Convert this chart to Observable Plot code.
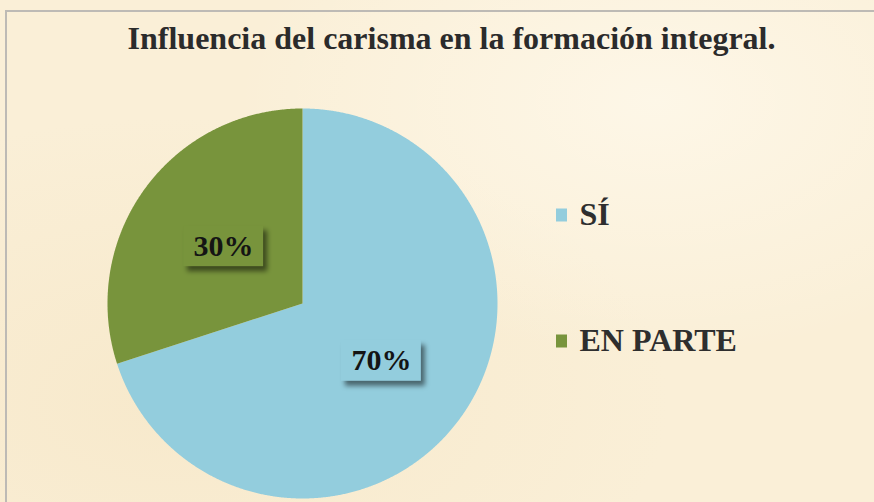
<!DOCTYPE html>
<html>
<head>
<meta charset="utf-8">
<script src="https://cdn.jsdelivr.net/npm/d3@7"></script>
<script src="https://cdn.jsdelivr.net/npm/@observablehq/plot@0.6"></script>
<style>
html, body { margin: 0; padding: 0; background: #ffffff; }
#chart {
  position: relative; width: 874px; height: 502px; overflow: hidden;
  background:
    radial-gradient(ellipse at 75% 20%, rgba(255,250,238,0.7), rgba(255,250,238,0) 45%),
    radial-gradient(ellipse at 20% 80%, rgba(244,226,190,0.45), rgba(244,226,190,0) 50%),
    #FAEFD7;
}
#frame {
  position: absolute; left: 5px; top: 10px; width: 900px; height: 520px;
  border-left: 2px solid #BDBAB5; border-top: 2px solid #BDBAB5;
  pointer-events: none;
}
#chart svg { position: absolute; left: 0; top: 0; background: transparent; }
</style>
</head>
<body>
<div id="chart"><div id="frame"></div></div>
<script>
// ---- data ----
const chartTitle = "Influencia del carisma en la formación integral.";
const categories = ["SÍ", "EN PARTE"];
const values = [70, 30];
const valueLabels = ["70%", "30%"];
const colors = ["#93CDDD", "#78943C"];

// ---- layout ----
const W = 874, H = 502;
const cx = 302, cy = 303, R = 195;
const labelDist = 0.5 * R;
const boxW = 80, boxH = 41;
const legendX = 556, legendY0 = 214, legendGap = 126, sqW = 11, sqH = 13;

const data = categories.map((c, i) => ({category: c, value: values[i], label: valueLabels[i]}));
const arcs = d3.pie().sort(null).value(d => d.value)(data);

// slice outlines (pixel coordinates through identity-range linear scales)
const slicePts = arcs.flatMap(a => {
  const pts = [{category: a.data.category, x: cx, y: cy}];
  const n = Math.max(4, Math.ceil((a.endAngle - a.startAngle) / 0.005));
  for (let k = 0; k <= n; k++) {
    const t = a.startAngle + (a.endAngle - a.startAngle) * k / n;
    pts.push({category: a.data.category, x: cx + R * Math.sin(t), y: cy - R * Math.cos(t)});
  }
  return pts;
});

const labelPos = arcs.map(a => {
  const t = (a.startAngle + a.endAngle) / 2;
  return {category: a.data.category, label: a.data.label,
          x: cx + labelDist * Math.sin(t), y: cy - labelDist * Math.cos(t)};
});

const legend = categories.map((c, i) => ({category: c, x: legendX, y: legendY0 + i * legendGap}));

const serif = "Liberation Serif";

const plot = Plot.plot({
  width: W, height: H,
  margin: 0,
  x: {domain: [0, W], range: [0, W], axis: null},
  y: {domain: [0, H], range: [0, H], axis: null},
  color: {domain: categories, range: colors},
  style: {background: "transparent"},
  marks: [
    // pie slices
    Plot.line(slicePts, {x: "x", y: "y", z: "category", fill: "category", stroke: null, curve: "linear"}),
    // label box shadows
    Plot.rect(labelPos, {
      x1: d => d.x - boxW / 2 + 4, x2: d => d.x + boxW / 2 + 4,
      y1: d => d.y - boxH / 2 + 5, y2: d => d.y + boxH / 2 + 5,
      fill: "#000", fillOpacity: 0.5, ariaLabel: () => "label-shadow"
    }),
    // label boxes
    Plot.rect(labelPos, {
      x1: d => d.x - boxW / 2, x2: d => d.x + boxW / 2,
      y1: d => d.y - boxH / 2, y2: d => d.y + boxH / 2,
      fill: "category"
    }),
    Plot.text(labelPos, {
      x: "x", y: "y", text: "label",
      fontFamily: serif, fontWeight: "bold", fontSize: 30, fill: "#141414"
    }),
    // title
    Plot.text([chartTitle], {
      x: () => 451, y: () => 37.8, text: d => d,
      fontFamily: serif, fontWeight: "bold", fontSize: 32, fill: "#2B2B2B"
    }),
    // legend
    Plot.rect(legend, {
      x1: d => d.x, x2: d => d.x + sqW, y1: d => d.y + 1 - sqH / 2, y2: d => d.y + 1 + sqH / 2,
      fill: "category"
    }),
    Plot.text(legend, {
      x: d => d.x + 23, y: "y", text: "category", textAnchor: "start",
      fontFamily: serif, fontWeight: "bold", fontSize: 32, fill: "#2E2E2E"
    })
  ]
});

// soft blur for the label shadows
const svg = d3.select(plot);
svg.insert("defs", ":first-child").html(
  '<filter id="shblur" x="-20%" y="-30%" width="140%" height="160%"><feGaussianBlur stdDeviation="2.5"/></filter>'
);
svg.selectAll('[aria-label="label-shadow"]').attr("filter", "url(#shblur)");

document.getElementById("chart").appendChild(plot);
</script>
</body>
</html>
